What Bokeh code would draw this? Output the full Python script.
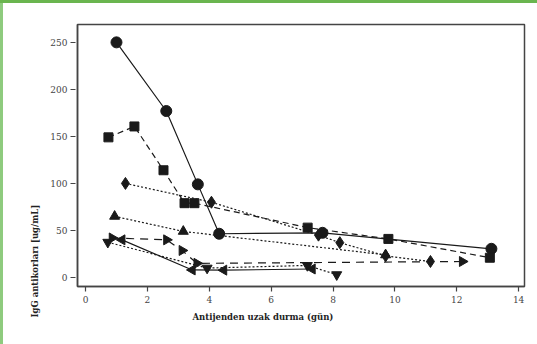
import math
from bokeh.plotting import figure
from bokeh.models import Range1d, FixedTicker, Title
from bokeh.embed import file_html
from bokeh.resources import INLINE

# Data (days off antigen vs IgG antibodies)
circ_x = [1.0, 2.61, 3.63, 4.32, 7.66, 13.12]
circ_y = [250, 177, 99, 46.5, 47.5, 30.5]

sq_x = [0.74, 1.58, 2.52, 3.2, 3.52, 7.18, 9.79, 13.07]
sq_y = [149, 160.6, 114, 79, 79, 53, 41, 21]

dia_x = [1.29, 4.07, 7.53, 8.22, 9.7, 11.15]
dia_y = [100, 80, 45, 37, 23, 17]

up_x = [0.94, 3.16, 9.7]
up_y = [65, 49, 24]

down_x = [0.72, 3.93, 7.17, 8.12]
down_y = [37.5, 10, 12.8, 3]

left_x = [1.18, 3.45, 4.47, 7.33]
left_y = [40, 8, 7.8, 9]

right_x = [0.86, 2.62, 3.12, 3.6, 12.18]
right_y = [42, 40, 28.7, 15, 17]

x_ticks = [0, 2, 4, 6, 8, 10, 12, 14]
y_ticks = [0, 50, 100, 150, 200, 250]
x_title = "Antijenden uzak durma (gün)"
y_title = "IgG antikorları [ug/mL]"

W, H = 537, 344
FL, FT, FR, FB = 77, 24, 13, 58
p = figure(width=W, height=H, output_backend="svg", toolbar_location=None,
           x_range=Range1d(-0.26, 14.19), y_range=Range1d(-9.6, 269),
           min_border_left=FL, min_border_top=FT, min_border_right=FR, min_border_bottom=FB)
# green page border on top and left, drawn behind a transparent canvas border
p.styles = {"background-color": "white",
            "box-shadow": "inset 0 3px 0 0 #6ab54f, inset 3px 0 0 0 #8ecb7e"}
p.grid.visible = False
p.background_fill_color = "white"
p.border_fill_color = None
p.outline_line_color = "#444444"
p.outline_line_width = 1.5

for ax in (p.xaxis[0], p.yaxis[0]):
    ax.major_label_text_font = "DejaVu Serif"
    ax.major_label_text_font_size = "9px"
    ax.major_label_text_color = "#444444"
    ax.axis_line_color = "#444444"
    ax.axis_line_width = 1.5
    ax.major_tick_line_color = "#444444"
    ax.major_tick_line_width = 1.2
    ax.minor_tick_line_color = None
p.xaxis.ticker = FixedTicker(ticks=x_ticks)
p.yaxis.ticker = FixedTicker(ticks=y_ticks)
p.xaxis.major_tick_in = 0
p.xaxis.major_tick_out = 5
p.yaxis.major_tick_in = -2
p.yaxis.major_tick_out = 7
p.xaxis.major_label_standoff = 4
p.yaxis.major_label_standoff = 3

LC = "#1a1a1a"
p.line(circ_x, circ_y, line_color=LC, line_width=1.2)
p.line(sq_x, sq_y, line_color=LC, line_width=1.2, line_dash="6 4")
p.line(dia_x, dia_y, line_color=LC, line_width=1.2, line_dash="2 2")
p.line(up_x, up_y, line_color=LC, line_width=1.2, line_dash="2 2")
p.line(down_x, down_y, line_color=LC, line_width=1.2, line_dash="2 2")
p.line(left_x, left_y, line_color=LC, line_width=1.2)
p.line(right_x, right_y, line_color=LC, line_width=1.2, line_dash="8 6")

p.scatter(circ_x, circ_y, marker="circle", size=11, fill_color=LC, line_color=LC)
p.scatter(sq_x, sq_y, marker="square", size=9, fill_color=LC, line_color=LC)
p.scatter(dia_x, dia_y, marker="diamond", size=12, fill_color=LC, line_color=LC)
p.scatter(up_x, up_y, marker="triangle", size=10, fill_color=LC, line_color=LC)
p.scatter(down_x, down_y, marker="inverted_triangle", size=10, fill_color=LC, line_color=LC)
p.scatter(left_x, left_y, marker="triangle", angle=math.pi / 2, size=10, fill_color=LC, line_color=LC)
p.scatter(right_x, right_y, marker="triangle", angle=-math.pi / 2, size=10, fill_color=LC, line_color=LC)

p.add_layout(Title(text=x_title, align="left", offset=115, standoff=8,
                   text_font="DejaVu Serif", text_font_style="bold", text_font_size="8.5px",
                   text_color="#222222"), "below")
p.add_layout(Title(text=y_title, align="left", offset=-31, standoff=16,
                   text_font="DejaVu Serif", text_font_style="bold", text_font_size="8.5px",
                   text_color="#222222"), "left")

open("out.html", "w").write(file_html(p, INLINE))
